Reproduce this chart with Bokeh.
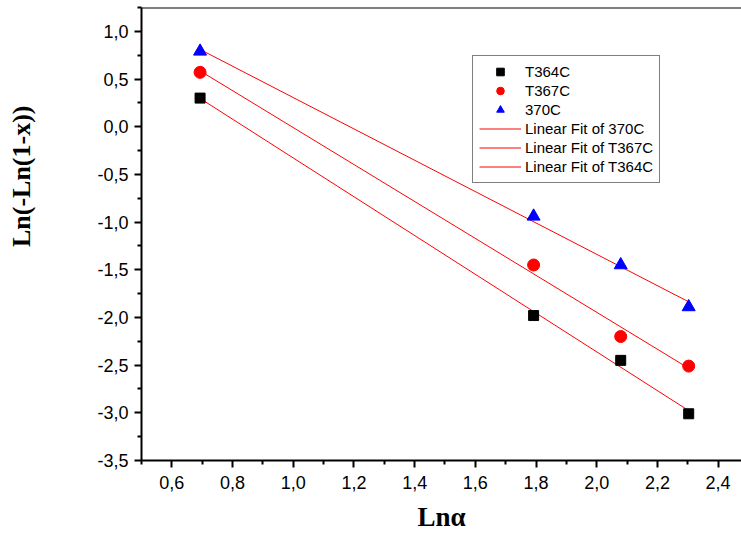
import numpy as np
from bokeh.plotting import figure
from bokeh.models import (Range1d, FixedTicker, CustomJSTickFormatter, Span, Title,
                          Legend, LegendItem)
from bokeh.embed import file_html
from bokeh.resources import INLINE

# ---- data ----
ln_alpha = [0.693, 1.792, 2.079, 2.303]
t364c = [0.30, -1.98, -2.45, -3.01]
t367c = [0.57, -1.45, -2.20, -2.51]
t370c = [0.79, -0.94, -1.45, -1.89]

x_ticks = [0.6, 0.8, 1.0, 1.2, 1.4, 1.6, 1.8, 2.0, 2.2, 2.4]
x_minor = [0.5, 0.7, 0.9, 1.1, 1.3, 1.5, 1.7, 1.9, 2.1, 2.3, 2.5]
y_ticks = [-3.5, -3.0, -2.5, -2.0, -1.5, -1.0, -0.5, 0.0, 0.5, 1.0]
y_minor = [-3.25, -2.75, -2.25, -1.75, -1.25, -0.75, -0.25, 0.25, 0.75, 1.25]

x_label = "Lnα"
y_label = "Ln(-Ln(1-x))"

p = figure(width=741, height=540, output_backend="svg", toolbar_location=None,
           x_range=Range1d(0.5, 2.477), y_range=Range1d(-3.5, 1.25),
           min_border_left=141, min_border_right=0, min_border_top=7, min_border_bottom=80)
p.background_fill_color = "white"
p.border_fill_color = "white"
p.outline_line_color = None
p.xgrid.visible = False
p.ygrid.visible = False

fmt = CustomJSTickFormatter(code="""
var t = Math.abs(tick) < 1e-9 ? 0 : tick;
return t.toFixed(1).replace('.', ',');
""")

for ax, ticks, minor in ((p.xaxis[0], x_ticks, x_minor), (p.yaxis[0], y_ticks, y_minor)):
    ax.ticker = FixedTicker(ticks=ticks, minor_ticks=minor)
    ax.formatter = fmt
    ax.axis_line_width = 2
    ax.axis_line_color = "black"
    ax.major_tick_line_width = 2
    ax.major_tick_line_color = "black"
    ax.major_tick_in = 0
    ax.major_tick_out = 7
    ax.minor_tick_line_width = 2
    ax.minor_tick_line_color = "black"
    ax.minor_tick_in = 0
    ax.minor_tick_out = 4
    ax.major_label_text_font = "Liberation Sans"
    ax.major_label_text_font_size = "18px"
    ax.major_label_text_color = "black"

p.xaxis.major_label_standoff = 8
p.yaxis.major_label_standoff = 6

p.xaxis.axis_label = x_label
p.xaxis.axis_label_text_font = "Liberation Serif"
p.xaxis.axis_label_text_font_style = "bold"
p.xaxis.axis_label_text_font_size = "27px"
p.xaxis.axis_label_standoff = 10
p.xaxis.axis_label_text_color = "black"

# top frame line
p.add_layout(Span(location=1.25, dimension="width", line_color="black", line_width=2))

# spacer between the y axis and its label
p.add_layout(Title(text=" ", text_font_size="1px", standoff=49), "left")

# y label as a left-side title (sits above the frame centre in the reference)
ytitle = Title(text=y_label, align="right", vertical_align="top", offset=98, standoff=10,
               text_font="Liberation Serif", text_font_style="bold",
               text_font_size="26px", text_color="black")
p.add_layout(ytitle, "left")

# fits
def fit_line(xs, ys):
    m, b = np.polyfit(xs, ys, 1)
    xx = [xs[0], xs[-1]]
    return xx, [m * v + b for v in xx]

fx, fy = fit_line(ln_alpha, t370c)
l370 = p.line(fx, fy, line_color="red", line_width=1)
fx, fy = fit_line(ln_alpha, t367c)
l367 = p.line(fx, fy, line_color="red", line_width=1)
fx, fy = fit_line(ln_alpha, t364c)
l364 = p.line(fx, fy, line_color="red", line_width=1)

s364 = p.scatter(ln_alpha, t364c, marker="square", size=10, color="black")
s367 = p.scatter(ln_alpha, t367c, marker="circle", size=12, color="red")
s370 = p.scatter(ln_alpha, t370c, marker="triangle", size=13, color="blue")

legend = Legend(items=[
    LegendItem(label="T364C", renderers=[s364]),
    LegendItem(label="T367C", renderers=[s367]),
    LegendItem(label="370C", renderers=[s370]),
    LegendItem(label="Linear Fit of 370C", renderers=[l370]),
    LegendItem(label="Linear Fit of T367C", renderers=[l367]),
    LegendItem(label="Linear Fit of T364C", renderers=[l364]),
], location=(331, 277))
legend.margin = 0
legend.padding = 6
legend.spacing = 0
legend.glyph_width = 42
legend.glyph_height = 19
legend.label_height = 19
legend.label_standoff = 4
legend.label_text_font = "Liberation Sans"
legend.label_text_font_size = "15px"
legend.label_text_color = "black"
legend.border_line_color = "black"
legend.border_line_width = 1
legend.background_fill_alpha = 1
p.add_layout(legend)

open("out.html", "w").write(file_html(p, INLINE))
